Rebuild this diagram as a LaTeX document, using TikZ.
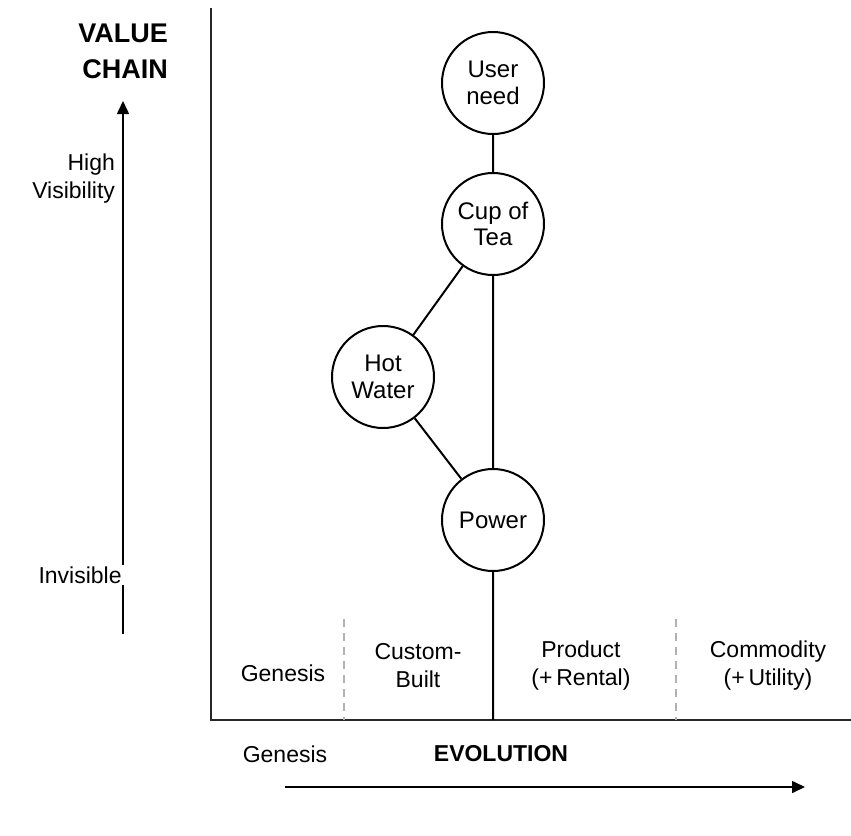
\documentclass[tikz,border=0pt]{standalone}
\usepackage{fontspec}
\setmainfont{Liberation Sans}
\usetikzlibrary{arrows.meta}
\tikzstyle{comp}=[circle, draw, line width=1pt, minimum size=51pt, inner sep=0pt, fill=white, align=center, font=\fontsize{12}{13.3}\selectfont]
\tikzstyle{lbl}=[align=center, font=\fontsize{11.5}{14}\selectfont]
\tikzstyle{link}=[line width=1pt]
\tikzstyle{axis}=[line width=1.3pt, black!85]
\tikzstyle{sep}=[line width=0.8pt, gray!60, dash pattern=on 4pt off 3pt]
\tikzstyle{dir}=[line width=0.8pt, -{Triangle[length=6.5pt,width=6pt]}]
\newcommand{\comp}{\node[comp]}
\newcommand{\lbl}{\node[lbl]}

\begin{document}
\begin{tikzpicture}[x=0.5pt,y=-0.5pt]
\useasboundingbox (0,0) rectangle (851,835);
\draw[axis] (211,8) -- (211,720) -- (851,720);
\foreach \x in {344,676}{
	\draw[sep] (\x,619) -- (\x,720);
	}
\comp (user) at (493,83) {User\\need};
\comp (tea) at (493,224) {Cup of\\Tea};
\comp (water) at (383,377) {Hot\\Water};
\comp (power) at (493,520) {Power};
\coordinate (base) at (493,720);
\draw[link] (user) -- (tea) (tea) -- (water) (water) -- (power) (tea) -- (power) (power) -- (base);
\coordinate (vlow) at (123,634);
\coordinate (vhigh) at (123,101);
\draw[dir] (vlow) -- (vhigh);
\node[anchor=east, align=right, font=\fontsize{13.5}{18}\selectfont\bfseries] (vc) at (175,51) {VALUE\\CHAIN};
\node[lbl, anchor=east, align=right] (high) at (122,179) {High\\Visibility};
\node[lbl, anchor=east, fill=white, inner sep=1pt] (invis) at (124,575) {Invisible};
\lbl (gen) at (283,673) {Genesis};
\lbl (cust) at (418,666) {Custom-\\Built};
\lbl (prod) at (581,666) {Product\\(+\,Rental)};
\lbl (comm) at (768,666) {Commodity\\(+\,Utility)};
\lbl (gen2) at (285,754) {Genesis};
\node[font=\fontsize{11.5}{14}\selectfont\bfseries] (evo) at (501,754) {EVOLUTION};
\coordinate (hlow) at (285,787);
\coordinate (hhigh) at (805,787);
\draw[dir] (hlow) -- (hhigh);
\end{tikzpicture}
\end{document}
